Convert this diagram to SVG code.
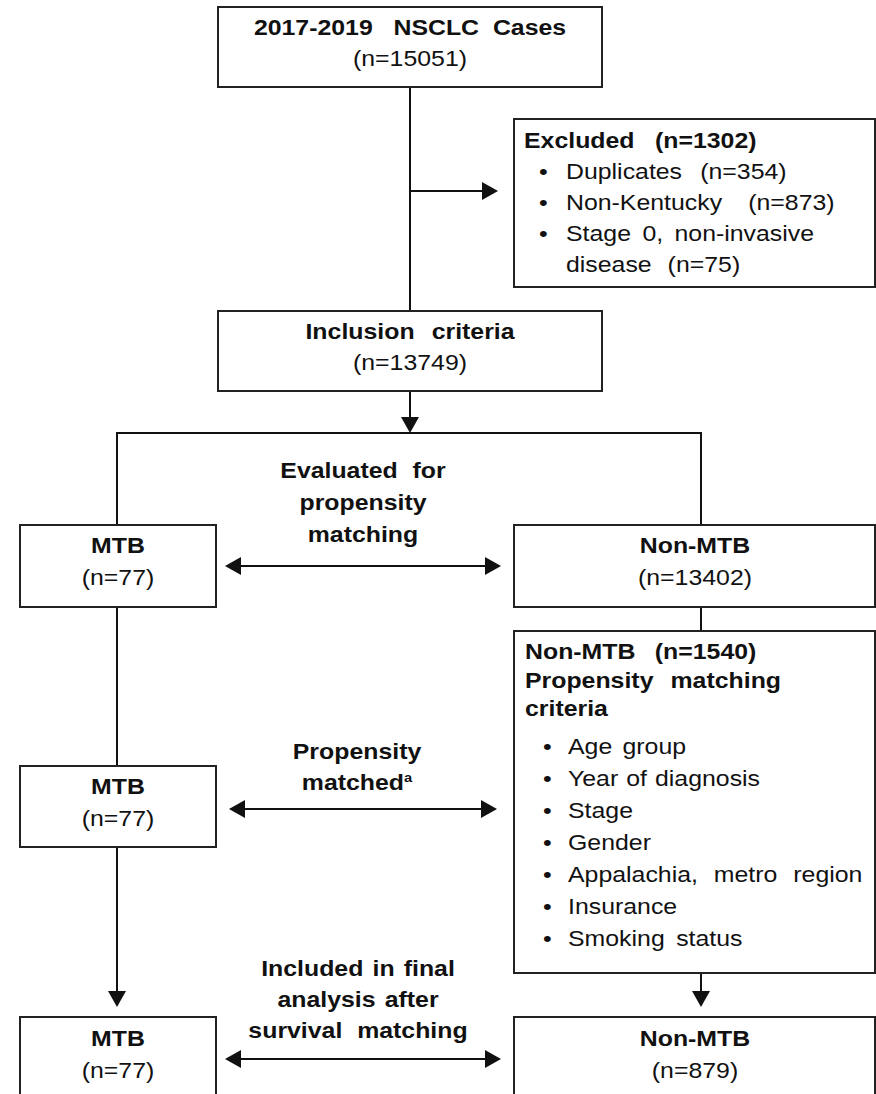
<svg xmlns="http://www.w3.org/2000/svg" width="876" height="1094" viewBox="0 0 876 1094">
  <style>
    .box { fill: #fff; stroke: #222; stroke-width: 2; }
    .wire { fill: none; stroke: #111; stroke-width: 2; }
    text { font-family: "Liberation Sans", Arial, sans-serif; font-size: 22px; fill: #111; word-spacing: 2px; white-space: pre; }
    .b { font-weight: bold; }
    .c { text-anchor: middle; }
  </style>
  <defs>
    <marker id="head" viewBox="0 0 16 18" refX="14" refY="9" markerWidth="16" markerHeight="18" markerUnits="userSpaceOnUse" orient="auto-start-reverse">
      <path d="M0,0 L16,9 L0,18 z" fill="#111"/>
    </marker>
  </defs>
  <rect width="876" height="1094" fill="#fff"/>

  <!-- connectors -->
  <g id="connectors">
    <line class="wire" x1="410" y1="87" x2="410" y2="311"/>
    <line class="wire" x1="410" y1="191" x2="496" y2="191" marker-end="url(#head)"/>
    <line class="wire" x1="410" y1="391" x2="410" y2="431" marker-end="url(#head)"/>
    <polyline class="wire" points="117,525 117,433 701,433 701,525"/>
    <line class="wire" x1="227" y1="566" x2="499" y2="566" marker-start="url(#head)" marker-end="url(#head)"/>
    <line class="wire" x1="701" y1="607" x2="701" y2="631"/>
    <line class="wire" x1="117" y1="607" x2="117" y2="766"/>
    <line class="wire" x1="231" y1="809" x2="495" y2="809" marker-start="url(#head)" marker-end="url(#head)"/>
    <line class="wire" x1="117" y1="847" x2="117" y2="1005" marker-end="url(#head)"/>
    <line class="wire" x1="701" y1="973" x2="701" y2="1005" marker-end="url(#head)"/>
    <line class="wire" x1="227" y1="1059" x2="499" y2="1059" marker-start="url(#head)" marker-end="url(#head)"/>
  </g>

  <!-- connector labels -->
  <g id="label-evaluated">
    <text class="b c" style="word-spacing:7px" transform="translate(363,478) scale(1.13,1)">Evaluated for</text>
    <text class="b c" transform="translate(363,510) scale(1.13,1)">propensity</text>
    <text class="b c" transform="translate(363,542) scale(1.13,1)">matching</text>
  </g>
  <g id="label-matched">
    <text class="b c" transform="translate(357,759) scale(1.13,1)">Propensity</text>
    <text class="b c" transform="translate(357,790) scale(1.13,1)">matched<tspan font-size="13" dy="-8">a</tspan></text>
  </g>
  <g id="label-included">
    <text class="b c" transform="translate(358,976) scale(1.13,1)">Included in final</text>
    <text class="b c" transform="translate(358,1007) scale(1.13,1)">analysis after</text>
    <text class="b c" style="word-spacing:7px" transform="translate(358,1038) scale(1.13,1)">survival matching</text>
  </g>

  <!-- nodes -->
  <g id="cases">
    <rect class="box" x="218" y="7" width="384" height="80"/>
    <text class="b c" style="word-spacing:0" transform="translate(410,35) scale(1.13,1)">2017-2019   NSCLC  Cases</text>
    <text class="c" transform="translate(410,66) scale(1.13,1)">(n=15051)</text>
  </g>

  <g id="excluded">
    <rect class="box" x="514" y="119" width="361" height="168"/>
    <text class="b" style="word-spacing:12px" transform="translate(524,148) scale(1.13,1)">Excluded (n=1302)</text>
    <text transform="translate(539,179) scale(1.13,1)">•</text>
    <text style="word-spacing:10px" transform="translate(566,179) scale(1.13,1)">Duplicates (n=354)</text>
    <text transform="translate(539,210) scale(1.13,1)">•</text>
    <text style="word-spacing:17px" transform="translate(566,210) scale(1.13,1)">Non-Kentucky (n=873)</text>
    <text transform="translate(539,241) scale(1.13,1)">•</text>
    <text style="word-spacing:4px" transform="translate(566,241) scale(1.13,1)">Stage 0, non-invasive</text>
    <text style="word-spacing:8px" transform="translate(566,272) scale(1.13,1)">disease (n=75)</text>
  </g>

  <g id="inclusion">
    <rect class="box" x="218" y="311" width="384" height="80"/>
    <text class="b c" style="word-spacing:9px" transform="translate(410,339) scale(1.13,1)">Inclusion criteria</text>
    <text class="c" transform="translate(410,370) scale(1.13,1)">(n=13749)</text>
  </g>

  <g id="mtb-evaluated">
    <rect class="box" x="20" y="525" width="196" height="82"/>
    <text class="b c" transform="translate(118,553) scale(1.13,1)">MTB</text>
    <text class="c" transform="translate(118,585) scale(1.13,1)">(n=77)</text>
  </g>

  <g id="nonmtb-evaluated">
    <rect class="box" x="514" y="525" width="361" height="82"/>
    <text class="b c" transform="translate(695,553) scale(1.13,1)">Non-MTB</text>
    <text class="c" transform="translate(695,585) scale(1.13,1)">(n=13402)</text>
  </g>

  <g id="nonmtb-criteria">
    <rect class="box" x="514" y="631" width="361" height="342"/>
    <text class="b" style="word-spacing:11px" transform="translate(525,659) scale(1.13,1)">Non-MTB (n=1540)</text>
    <text class="b" style="word-spacing:9px" transform="translate(525,688) scale(1.13,1)">Propensity matching</text>
    <text class="b" transform="translate(525,716) scale(1.13,1)">criteria</text>
    <text transform="translate(543,754) scale(1.13,1)">•</text>
    <text style="word-spacing:3px" transform="translate(568,754) scale(1.13,1)">Age group</text>
    <text transform="translate(543,786) scale(1.13,1)">•</text>
    <text style="word-spacing:1px" transform="translate(568,786) scale(1.13,1)">Year of diagnosis</text>
    <text transform="translate(543,818) scale(1.13,1)">•</text>
    <text transform="translate(568,818) scale(1.13,1)">Stage</text>
    <text transform="translate(543,850) scale(1.13,1)">•</text>
    <text transform="translate(568,850) scale(1.13,1)">Gender</text>
    <text transform="translate(543,882) scale(1.13,1)">•</text>
    <text style="word-spacing:8px" transform="translate(568,882) scale(1.13,1)">Appalachia, metro region</text>
    <text transform="translate(543,914) scale(1.13,1)">•</text>
    <text transform="translate(568,914) scale(1.13,1)">Insurance</text>
    <text transform="translate(543,946) scale(1.13,1)">•</text>
    <text style="word-spacing:4px" transform="translate(568,946) scale(1.13,1)">Smoking status</text>
  </g>

  <g id="mtb-matched">
    <rect class="box" x="20" y="766" width="196" height="81"/>
    <text class="b c" transform="translate(118,794) scale(1.13,1)">MTB</text>
    <text class="c" transform="translate(118,826) scale(1.13,1)">(n=77)</text>
  </g>

  <g id="mtb-final">
    <rect class="box" x="20" y="1017" width="196" height="90"/>
    <text class="b c" transform="translate(118,1046) scale(1.13,1)">MTB</text>
    <text class="c" transform="translate(118,1078) scale(1.13,1)">(n=77)</text>
  </g>

  <g id="nonmtb-final">
    <rect class="box" x="514" y="1017" width="361" height="90"/>
    <text class="b c" transform="translate(695,1046) scale(1.13,1)">Non-MTB</text>
    <text class="c" transform="translate(695,1078) scale(1.13,1)">(n=879)</text>
  </g>
</svg>
